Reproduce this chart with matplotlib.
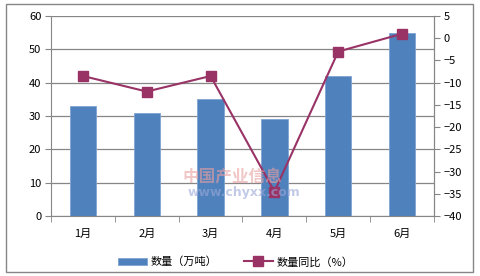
import matplotlib.pyplot as plt
import numpy as np
from matplotlib.patches import Rectangle

plt.rcParams['font.family'] = ['Noto Sans CJK SC', 'DejaVu Sans']
plt.rcParams['font.size'] = 8

# data
months = ['1月', '2月', '3月', '4月', '5月', '6月']
volume = [33, 31, 35, 29, 42, 55]          # 数量（万吨）
yoy = [-8.5, -12, -8.5, -34.5, -3, 1]      # 数量同比（%）

bar_color = '#4F81BD'
line_color = '#993366'
grid_color = '#868686'

fig = plt.figure(figsize=(4.81, 2.76), dpi=100)
ax = fig.add_axes([51 / 481, 1 - 216 / 276, (434 - 51) / 481, (216 - 16) / 276])

x = np.arange(len(months))
ax.bar(x, volume, width=0.41, color=bar_color, edgecolor='#7FA3D3',
       linewidth=0.6, zorder=2, label='数量（万吨）')
ax.set_xlim(-0.5, len(months) - 0.5)
ax.set_ylim(0, 60)
ax.set_yticks(range(0, 61, 10))
ax.yaxis.grid(True, color=grid_color, linewidth=0.9, zorder=0)
ax.set_axisbelow(True)
ax.set_xticks(x)
ax.set_xticklabels(months)
ax.set_xticks(np.arange(-0.5, len(months)), minor=True)
ax.tick_params(axis='x', which='major', length=0, pad=9)
ax.tick_params(axis='x', which='minor', length=4, color=grid_color)
ax.tick_params(axis='y', length=4, color=grid_color, pad=3)
ax.spines['top'].set_visible(False)
for s in ['left', 'bottom', 'right']:
    ax.spines[s].set_color(grid_color)

ax2 = ax.twinx()
ax2.plot(x, yoy, color=line_color, linewidth=1.5, marker='s',
         markersize=7, zorder=3, label='数量同比（%）')
ax2.set_ylim(-40, 5)
ax2.set_yticks(range(-40, 6, 5))
ax2.tick_params(axis='y', length=4, color=grid_color, pad=3)
ax2.spines['top'].set_visible(False)
ax2.spines['right'].set_color(grid_color)
ax2.spines['left'].set_visible(False)
ax2.spines['bottom'].set_visible(False)

# faint watermark
fig.text(183 / 481, 1 - 181 / 276, '中国产业信息', color='#E8A0A0', alpha=0.6,
         fontsize=12, fontweight='bold')
fig.text(188 / 481, 1 - 196 / 276, 'www.chyxx.com', color='#9AA8D8', alpha=0.6,
         fontsize=9, fontweight='bold', family='DejaVu Sans')

h1, l1 = ax.get_legend_handles_labels()
h2, l2 = ax2.get_legend_handles_labels()
fig.legend(h1 + h2, l1 + l2, loc='center', bbox_to_anchor=(0.49, 1 - 262 / 276),
           ncol=2, frameon=False, handlelength=2.6, columnspacing=2.4,
           handletextpad=0.3)

fig.patches.append(Rectangle((5.5 / 481, 1 - 272 / 276), 468 / 481, 268 / 276,
                             transform=fig.transFigure, fill=False,
                             edgecolor=grid_color, linewidth=1))

fig.savefig('out.png', dpi=100)
